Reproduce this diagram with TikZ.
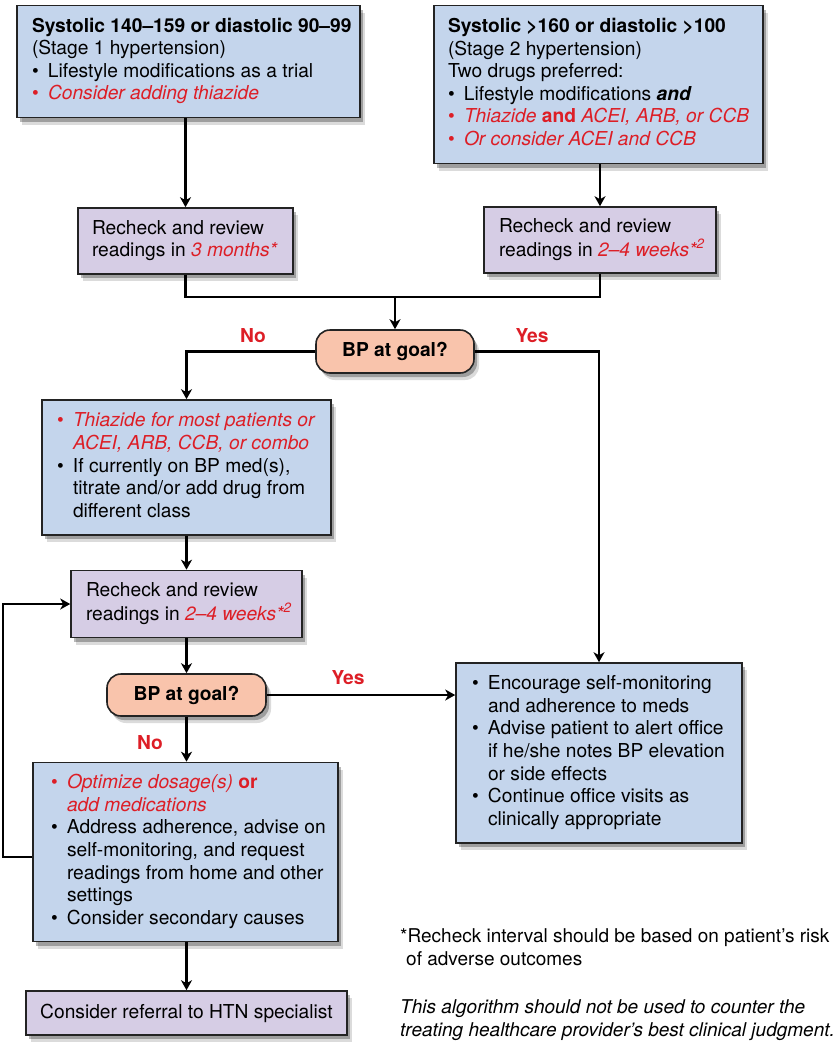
\documentclass[tikz,border=0pt]{standalone}
\usepackage{fontspec}
\setmainfont{TeX Gyre Heros}
\usetikzlibrary{arrows.meta,shadows}
\definecolor{boxblue}{RGB}{196,213,236}
\definecolor{boxpurple}{RGB}{214,205,229}
\definecolor{bpfill}{RGB}{249,196,172}
\definecolor{hred}{RGB}{221,30,38}
\definecolor{border}{RGB}{35,35,35}
\newcommand{\bu}{\makebox[16pt][l]{•}}
\newcommand{\ind}{\hspace*{16pt}}
\newcommand{\boxtext}[2]{\makebox[#1][l]{\begin{tabular}{@{}l@{}}#2\end{tabular}}}
\tikzset{
  every node/.style={font=\fontsize{19.2}{22.6}\selectfont},
  shad/.style={drop shadow={shadow xshift=3pt,shadow yshift=-4pt,opacity=.28,fill=black},
               drop shadow={shadow xshift=5pt,shadow yshift=-7pt,opacity=.14,fill=black}},
  bbox/.style={draw=border,line width=1.6pt,fill=boxblue,shad,rectangle,inner ysep=0pt},
  pbox/.style={draw=border,line width=1.6pt,fill=boxpurple,shad,rectangle,inner ysep=0pt},
  goal/.style={draw=border,line width=1.6pt,fill=bpfill,shad,rectangle,rounded corners=14pt,
               minimum width=158pt,minimum height=43pt,inner sep=0pt,font=\fontsize{19.2}{22.6}\selectfont\bfseries},
  lbl/.style={text=hred,font=\fontsize{19.2}{22.6}\selectfont\bfseries,inner sep=0pt},
  conn/.style={line width=2.4pt,draw=black},
  arr/.style={line width=2.4pt,draw=black,-{Stealth[length=10pt,width=11pt,inset=3pt]}},
}
\begin{document}
\begin{tikzpicture}[x=1pt,y=-1pt]
\useasboundingbox (0,0) rectangle (835,1050);

% Stage 1
\node[bbox,minimum width=343pt,minimum height=112pt,inner xsep=15pt] (A) at (188.5,61.5)
 {\boxtext{313pt}{\textbf{Systolic 140–159 or diastolic 90–99}\\
 (Stage 1 hypertension)\\
 \bu Lifestyle modifications as a trial\\
 {\color{hred}\bu\itshape Consider adding thiazide}}};

% Stage 2
\node[bbox,minimum width=329pt,minimum height=158pt,inner xsep=14pt] (B) at (598.5,84.5)
 {\boxtext{301pt}{\textbf{Systolic >160 or diastolic >100}\\
 (Stage 2 hypertension)\\
 Two drugs preferred:\\
 \bu Lifestyle modifications {\bfseries\itshape and}\\
 {\color{hred}\bu\itshape Thiazide {\upshape\bfseries and} ACEI, ARB, or CCB}\\
 {\color{hred}\bu\itshape Or consider ACEI and CCB}}};

% Recheck boxes
\node[pbox,minimum width=215pt,minimum height=66pt,inner xsep=14pt] (C) at (185.5,241)
 {\boxtext{187pt}{Recheck and review\\ readings in {\color{hred}\itshape 3 months*}}};
\node[pbox,minimum width=232pt,minimum height=66pt,inner xsep=15pt] (D) at (600,240)
 {\boxtext{202pt}{Recheck and review\\ readings in {\color{hred}\itshape 2–4 weeks*\textsuperscript{2}}}};

\node[goal] (BP1) at (395,351.5) {BP at goal?};

\node[bbox,minimum width=289pt,minimum height=135pt,inner xsep=15pt] (E) at (186.5,467.5)
 {\boxtext{259pt}{{\color{hred}\bu\itshape Thiazide for most patients or}\\
 {\color{hred}\ind\itshape ACEI, ARB, CCB, or combo}\\
 \bu If currently on BP med(s),\\
 \ind titrate and/or add drug from\\
 \ind different class}};

\node[pbox,minimum width=231pt,minimum height=67pt,inner xsep=15pt] (F) at (186.5,604)
 {\boxtext{201pt}{Recheck and review\\ readings in {\color{hred}\itshape 2–4 weeks*\textsuperscript{2}}}};

\node[goal,minimum width=159pt,minimum height=42pt] (BP2) at (186.5,695) {BP at goal?};

\node[bbox,minimum width=286pt,minimum height=180pt,inner xsep=16pt] (G) at (599,753)
 {\boxtext{254pt}{\bu Encourage self-monitoring\\
 \ind and adherence to meds\\
 \bu Advise patient to alert office\\
 \ind if he/she notes BP elevation\\
 \ind or side effects\\
 \bu Continue office visits as\\
 \ind clinically appropriate}};

\node[bbox,minimum width=305pt,minimum height=179pt,inner xsep=18pt] (H) at (185.5,852)
 {\boxtext{269pt}{{\color{hred}\bu\itshape Optimize dosage(s) {\upshape\bfseries or}}\\
 {\color{hred}\ind\itshape add medications}\\
 \bu Address adherence, advise on\\
 \ind self-monitoring, and request\\
 \ind readings from home and other\\
 \ind settings\\
 \bu Consider secondary causes}};

\node[pbox,minimum width=321pt,minimum height=44pt,inner xsep=0pt] (I) at (186.5,1013)
 {Consider referral to HTN specialist};

% labels
\node[lbl] (no1) at (253,336) {No};
\node[lbl] (yes1) at (532,336) {Yes};
\node[lbl] (yes2) at (348,678) {Yes};
\node[lbl] (no2) at (150,743) {No};

% footnotes
\node[anchor=base west,align=left,inner sep=0pt,font=\fontsize{19}{22.6}\selectfont] (fn1) at (400,965)
 {*Recheck interval should be based on patient’s risk\\ \hspace*{6pt}of adverse outcomes};
\node[anchor=base west,align=left,inner sep=0pt,font=\fontsize{19}{22.6}\selectfont\itshape] (fn2) at (400,1036)
 {This algorithm should not be used to counter the\\ treating healthcare provider’s best clinical judgment.};

% connectors
\coordinate (m) at (395,297);
\coordinate (L1) at (3,857);
\draw[arr] (A.south -| C.north) -- (C.north);
\draw[arr] (B.south -| D.north) -- (D.north);
\draw[conn] (C.south) |- (m) -| (D.south);
\draw[arr] (m) -- (BP1.north);
\draw[arr] (BP1.west) -| (E.north);
\draw[arr] (BP1.east) -| (G.north);
\draw[arr] (E.south) -- (F.north);
\draw[arr] (F.south) -- (BP2.north);
\draw[arr] (BP2.south) -- (BP2.south |- H.north);
\draw[arr] (BP2.east) -- (BP2.east -| G.west);
\draw[arr] (H.west |- L1) -- (L1) |- (F.west);
\draw[arr] (H.south -| I.north) -- (I.north);
\end{tikzpicture}
\end{document}
